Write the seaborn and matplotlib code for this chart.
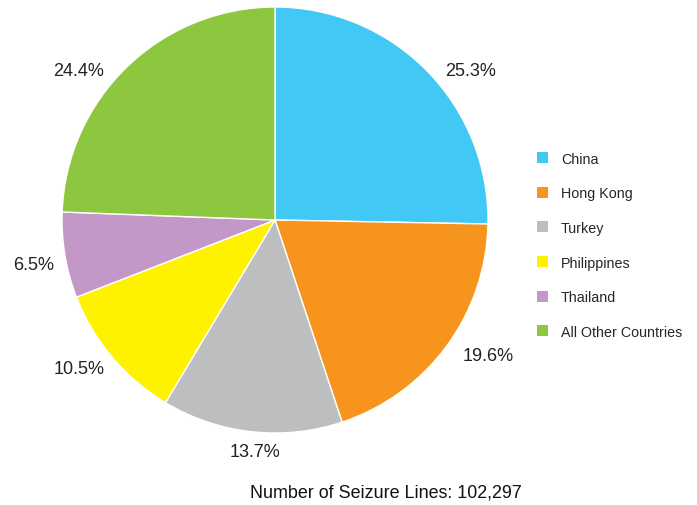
import matplotlib
matplotlib.use('Agg')
import matplotlib.pyplot as plt
import seaborn as sns
from matplotlib.patches import Patch

countries = ['China', 'Hong Kong', 'Turkey', 'Philippines', 'Thailand', 'All Other Countries']
shares = [25.3, 19.6, 13.7, 10.5, 6.5, 24.4]
colors = ['#41C8F4', '#F7941D', '#BCBEC0', '#FFF200', '#C397C8', '#8DC63F']
total_lines = '102,297'

# where the percent labels sit (pie radius = 1), best-fit style like the original
label_pos = [(0.92, 0.704), (1.0, -0.634), (-0.094, -1.085),
             (-0.92, -0.695), (-1.131, -0.211), (-0.92, 0.704)]

sns.set_style('white')
plt.rcParams['font.family'] = ['Liberation Sans', 'DejaVu Sans']

palette = sns.color_palette(colors)

fig = plt.figure(figsize=(6.97, 5.06), dpi=100)
ax = fig.add_axes([62 / 697, 72 / 506, 426 / 697, 426 / 506])

wedges, texts, autotexts = ax.pie(
    shares, colors=palette, startangle=90, counterclock=False,
    autopct='%.1f%%', pctdistance=1.17, radius=1,
    wedgeprops={'edgecolor': 'white', 'linewidth': 1},
    textprops={'fontsize': 13, 'color': '#222222'})
for t, pos in zip(autotexts, label_pos):
    t.set_position(pos)
    t.set_ha('center')
    t.set_va('center')
ax.set_xlim(-1, 1)
ax.set_ylim(-1, 1)
ax.set_aspect('equal')
ax.axis('off')

handles = [Patch(facecolor=c, edgecolor='none') for c in palette]
fig.legend(handles, countries, loc='upper left', bbox_to_anchor=(531 / 697, 1 - 147 / 506),
           frameon=False, fontsize=10.3, handlelength=0.8, handleheight=0.8,
           handletextpad=0.9, labelspacing=1.44, borderaxespad=0)

fig.text(385.5 / 697, 1 - 493 / 506, 'Number of Seizure Lines: ' + total_lines,
         ha='center', va='center', fontsize=12.9, color='#111111')

fig.savefig('out.png', dpi=100)
